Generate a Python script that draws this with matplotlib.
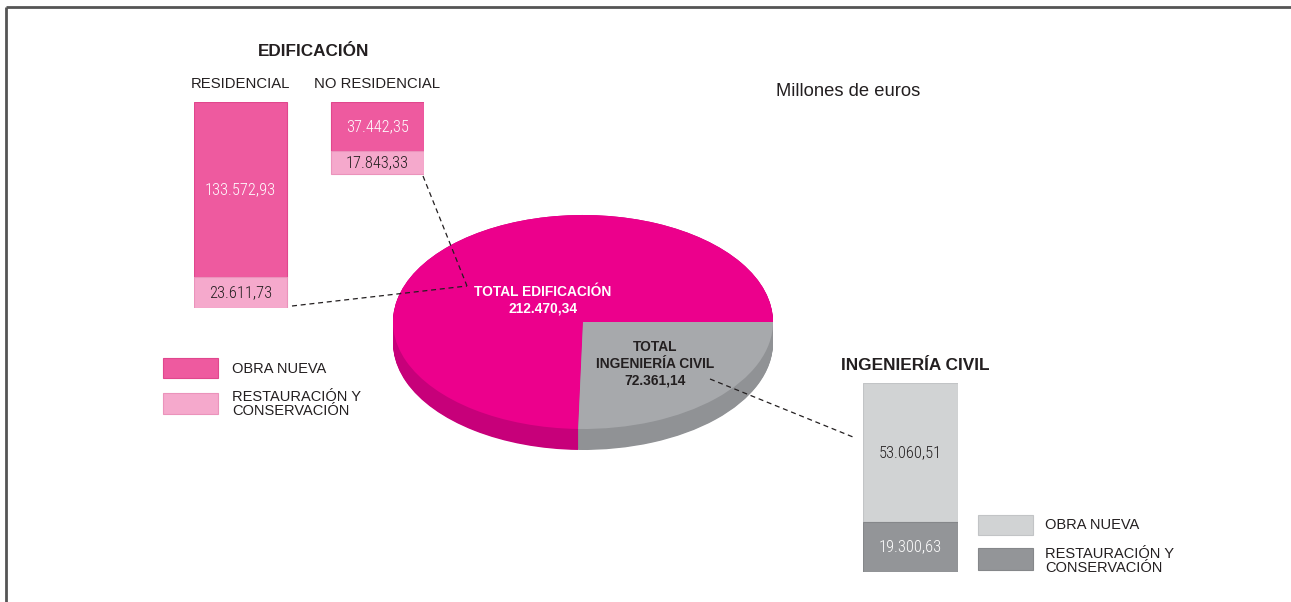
import matplotlib
matplotlib.use("Agg")
import matplotlib.pyplot as plt
from matplotlib import font_manager
import numpy as np

plt.rcParams['font.family'] = ['Liberation Sans', 'DejaVu Sans']

W, H = 1291, 602

# data (millones de euros)
edif_labels = ['RESIDENCIAL', 'NO RESIDENCIAL']
edif_obra_nueva = [133572.93, 37442.35]
edif_restauracion = [23611.73, 17843.33]
civil_obra_nueva = [53060.51]
civil_restauracion = [19300.63]
pie_labels = ['TOTAL EDIFICACIÓN', 'TOTAL\nINGENIERÍA CIVIL']
pie_values = [212470.34, 72361.14]

DARK = '#231f20'
PINK_TOP = '#ec008c'
PINK_SIDE = '#c7007a'
GRAY_TOP = '#a7a9ac'
GRAY_SIDE = '#909295'
PINK_NEW = '#ee5a9f'
PINK_REST = '#f5a9cc'
GRAY_NEW = '#d1d3d4'
GRAY_REST = '#939598'

# condensed face for the numbers, if one is installed
names = {f.name for f in font_manager.fontManager.ttflist}
NUM_FONT = [n for n in ['Liberation Sans Narrow', 'Roboto Condensed', 'DejaVu Sans Condensed']
            if n in names] + ['DejaVu Sans']
NUM_KW = dict(family=NUM_FONT, stretch='condensed', fontweight='light', fontsize=11.8)


def fmt(v):
    s = f"{v:,.2f}"
    return s.replace(',', 'X').replace('.', ',').replace('X', '.')


def box(x0, y0, x1, y1):
    return [x0 / W, 1 - y1 / H, (x1 - x0) / W, (y1 - y0) / H]


fig = plt.figure(figsize=(W / 100, H / 100), dpi=100)

# --- edificacion bars (hang from the top) ---
ax_e = fig.add_axes(box(194, 102, 424, 308))
bw = 93 / 137
pos = np.arange(len(edif_labels))
ax_e.bar(pos, edif_obra_nueva, width=bw, color=PINK_NEW, edgecolor='#e0478d', linewidth=0.8)
ax_e.bar(pos, edif_restauracion, bottom=edif_obra_nueva, width=bw, color=PINK_REST,
         edgecolor='#eb93bb', linewidth=0.8)
ax_e.set_xlim(-bw / 2, len(pos) - 1 + bw / 2)
ax_e.set_ylim(edif_obra_nueva[0] + edif_restauracion[0], 0)
ax_e.axis('off')
for i in pos:
    ax_e.text(i, edif_obra_nueva[i] / 2, fmt(edif_obra_nueva[i]), ha='center', va='center',
              color='white', **NUM_KW)
    ax_e.text(i, edif_obra_nueva[i] + edif_restauracion[i] / 2, fmt(edif_restauracion[i]),
              ha='center', va='center', color=DARK, **NUM_KW)
    ax_e.text(i, -0.085 * (edif_obra_nueva[0] + edif_restauracion[0]), edif_labels[i],
              ha='center', va='center', color=DARK, fontsize=10.7, clip_on=False)

# --- ingenieria civil bar ---
ax_c = fig.add_axes(box(863, 383, 958, 572))
ax_c.bar([0], civil_obra_nueva, width=1, color=GRAY_NEW, edgecolor='#c2c4c6', linewidth=0.8)
ax_c.bar([0], civil_restauracion, bottom=civil_obra_nueva, width=1, color=GRAY_REST,
         edgecolor='#85878a', linewidth=0.8)
ax_c.set_xlim(-0.5, 0.5)
ax_c.set_ylim(civil_obra_nueva[0] + civil_restauracion[0], 0)
ax_c.axis('off')
ax_c.text(0, civil_obra_nueva[0] / 2, fmt(civil_obra_nueva[0]), ha='center', va='center',
          color=DARK, **NUM_KW)
ax_c.text(0, civil_obra_nueva[0] + civil_restauracion[0] / 2, fmt(civil_restauracion[0]),
          ha='center', va='center', color='white', **NUM_KW)

# --- pseudo 3D pie ---
ax_p = fig.add_axes(box(393, 215, 773, 450))
depth = 21 / 107
for k in np.linspace(depth, 0, 30):
    ax_p.pie(pie_values, colors=[PINK_SIDE, GRAY_SIDE], startangle=0, center=(0, -k),
             wedgeprops=dict(linewidth=0, antialiased=True))
ax_p.pie(pie_values, colors=[PINK_TOP, GRAY_TOP], startangle=0,
         wedgeprops=dict(linewidth=0))
ax_p.set_aspect('auto')
ax_p.set_xlim(-1, 1)
ax_p.set_ylim(-1 - depth, 1)
ax_p.axis('off')

# --- overlay for titles, legends, connectors ---
ov = fig.add_axes([0, 0, 1, 1])
ov.set_xlim(0, W)
ov.set_ylim(H, 0)
ov.axis('off')
ov.patch.set_alpha(0)

ov.plot([6, W], [7, 7], color='#555555', lw=2, solid_capstyle='butt')
ov.plot([6, 6], [7, H], color='#555555', lw=2, solid_capstyle='butt')

ov.text(314, 52, 'EDIFICACIÓN', ha='center', va='center', fontsize=12.3, fontweight='bold', color=DARK)
ov.text(848, 92, 'Millones de euros', ha='center', va='center', fontsize=13.2, color=DARK)
ov.text(915, 366, 'INGENIERÍA CIVIL', ha='center', va='center', fontsize=12.4, fontweight='bold', color=DARK)

ov.text(543, 300, pie_labels[0] + '\n' + fmt(pie_values[0]), ha='center', va='center',
        fontsize=9.9, fontweight='bold', color='white', linespacing=1.2)
ov.text(655, 364, pie_labels[1] + '\n' + fmt(pie_values[1]), ha='center', va='center',
        fontsize=9.9, fontweight='bold', color=DARK, linespacing=1.25)

# legends
for (x0, y0, x1, y1), c, ec in [((163, 358, 218, 378), PINK_NEW, '#e0478d'),
                                  ((163, 393, 218, 414), PINK_REST, '#eb93bb'),
                                  ((978, 515, 1033, 535), GRAY_NEW, '#c2c4c6'),
                                  ((978, 548, 1033, 570), GRAY_REST, '#85878a')]:
    ov.add_patch(plt.Rectangle((x0, y0), x1 - x0, y1 - y0, facecolor=c, edgecolor=ec, lw=0.8))
for x, y_new, y_rest in [(232, 369, 404), (1045, 525, 561)]:
    ov.text(x, y_new, 'OBRA NUEVA', ha='left', va='center', fontsize=10.5, color=DARK)
    ov.text(x, y_rest, 'RESTAURACIÓN Y\nCONSERVACIÓN', ha='left', va='center', fontsize=10.5,
            color=DARK, linespacing=1.02)

# connectors
dash = dict(color=DARK, lw=0.9, ls=(0, (4, 3)))
ov.plot([423, 467], [176, 286], **dash)
ov.plot([292, 467], [306, 286], **dash)
ov.plot([710, 853], [379, 437], **dash)

fig.savefig('out.png', dpi=100)
